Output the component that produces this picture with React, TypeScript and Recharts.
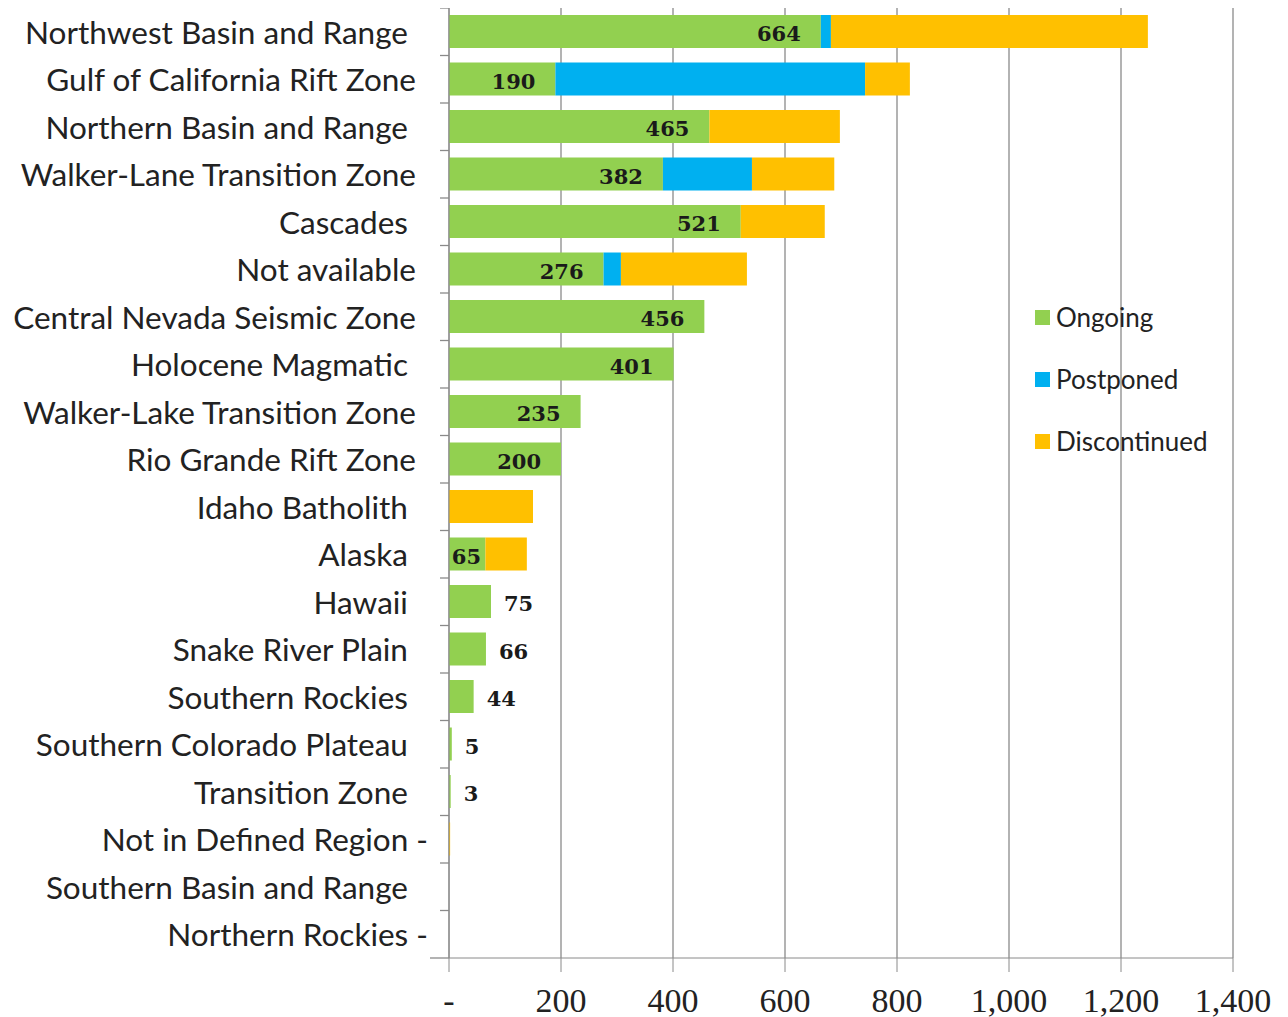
import React from "react";
import { BarChart, Bar, XAxis, YAxis, CartesianGrid, LabelList } from "recharts";

const regions = [
  "Northwest Basin and Range ",
  "Gulf of California Rift Zone",
  "Northern Basin and Range ",
  "Walker-Lane Transition Zone",
  "Cascades ",
  "Not available",
  "Central Nevada Seismic Zone",
  "Holocene Magmatic ",
  "Walker-Lake Transition Zone",
  "Rio Grande Rift Zone",
  "Idaho Batholith ",
  "Alaska ",
  "Hawaii ",
  "Snake River Plain ",
  "Southern Rockies ",
  "Southern Colorado Plateau ",
  "Transition Zone ",
  "Not in Defined Region -",
  "Southern Basin and Range ",
  "Northern Rockies -",
];
const ongoing = [664, 190, 465, 382, 521, 276, 456, 401, 235, 200, 0, 65, 75, 66, 44, 5, 3, 0, 0, 0];
const postponed = [18, 553, 0, 159, 0, 31, 0, 0, 0, 0, 0, 0, 0, 0, 0, 0, 0, 0, 0, 0];
const discontinued = [566, 80, 233, 147, 150, 225, 0, 0, 0, 0, 150, 74, 0, 0, 0, 0, 0, 2, 0, 0];
const xTicks = [0, 200, 400, 600, 800, 1000, 1200, 1400];

const series = [
  { key: "Ongoing", color: "#92D050" },
  { key: "Postponed", color: "#00B0F0" },
  { key: "Discontinued", color: "#FFC000" },
];

const data = regions.map((name, i) => ({
  name,
  Ongoing: ongoing[i],
  Postponed: postponed[i],
  Discontinued: discontinued[i],
}));

const GRID = "#8a8a8a";
const BAND = 47.5;

function CategoryTick(props: any) {
  const { y, payload } = props;
  const label: string = payload.value;
  const hasDash = label.endsWith("-");
  return (
    <g>
      <text
        x={hasDash ? 420 : 408}
        y={y}
        textAnchor="end"
        dominantBaseline="central"
        fontFamily="Lato"
        fontSize={31.5}
        fill="#222"
        style={{ whiteSpace: "pre" }}
      >
        {label}
      </text>
      <line x1={432} x2={441} y1={y - BAND / 2} y2={y - BAND / 2} stroke={GRID} strokeWidth={1.3} />
    </g>
  );
}

function ValueTick(props: any) {
  const { x, payload } = props;
  const v: number = payload.value;
  return (
    <g>
      {v === 0 && <line x1={x - 19} x2={x} y1={950} y2={950} stroke={GRID} strokeWidth={1.3} />}
      <text
        x={x}
        y={992}
        textAnchor="middle"
        dominantBaseline="central"
        fontFamily="Liberation Serif"
        fontSize={34}
        fill="#222"
      >
        {v === 0 ? "-" : v.toLocaleString("en-US")}
      </text>
    </g>
  );
}

function OngoingLabel(props: any) {
  const { x, y, width, height, value } = props;
  if (!value) return null;
  // row from the bar's own position (the label index is not reliable here)
  const row = Math.round((y + height / 2 - BAND / 2) / BAND);
  const stacked = postponed[row] + discontinued[row] > 0;
  const outside = !stacked && width < 60;
  const inset = Math.min(20, Math.max(4, width - 32));
  return (
    <text
      x={outside ? x + width + 13 : x + width - inset}
      y={y + height / 2 + 2}
      textAnchor={outside ? "start" : "end"}
      dominantBaseline="central"
      fontFamily="DejaVu Serif"
      fontWeight="bold"
      fontSize={21}
      fill="#1a1a1a"
    >
      {value}
    </text>
  );
}

function LegendBox() {
  return (
    <div style={{ position: "absolute", left: 1027, top: 278, fontFamily: "Lato", fontSize: 26, color: "#222" }}>
      {series.map((s) => (
        <div key={s.key} style={{ display: "flex", alignItems: "center", height: 62 }}>
          <span style={{ width: 15, height: 15, background: s.color, marginRight: 6, display: "inline-block" }} />
          {s.key}
        </div>
      ))}
    </div>
  );
}

export default function App() {
  return (
    <div style={{ position: "relative", width: 1272, height: 1009 }}>
      <BarChart
        width={1272}
        height={1009}
        data={data}
        layout="vertical"
        margin={{ top: 0, right: 47, bottom: 0, left: 0 }}
      >
        <CartesianGrid horizontal={false} stroke={GRID} strokeWidth={1.3} />
        <XAxis
          type="number"
          domain={[0, 1400]}
          ticks={xTicks}
          interval={0}
          height={59}
          tickSize={14}
          stroke={GRID}
          tick={<ValueTick />}
        />
        <YAxis
          type="category"
          dataKey="name"
          width={441}
          interval={0}
          tickLine={false}
          stroke={GRID}
          tick={<CategoryTick />}
        />
        {series.map((s) => (
          <Bar key={s.key} dataKey={s.key} stackId="a" fill={s.color} barSize={33} isAnimationActive={false}>
            {s.key === "Ongoing" && <LabelList dataKey="Ongoing" content={<OngoingLabel />} />}
          </Bar>
        ))}
      </BarChart>
      <LegendBox />
    </div>
  );
}
